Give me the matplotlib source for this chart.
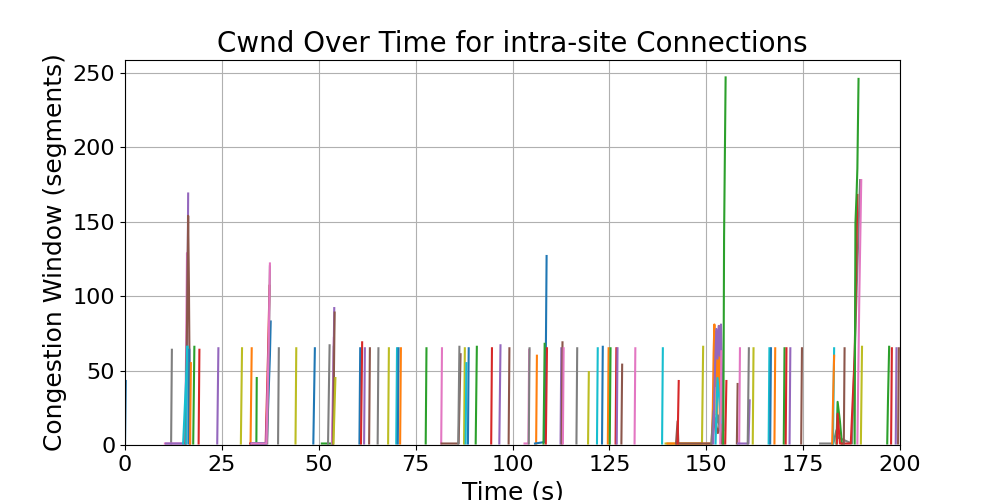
import matplotlib
matplotlib.use("Agg")
import matplotlib.pyplot as plt

# Per-connection cwnd traces (time in s, cwnd in segments)
conn_times = [
    [0.0, 0.2],
    [11.9, 12.1],
    [10.3, 15.5, 15.8, 16.0, 16.1],
    [10.6, 15.8, 16.1, 16.3],
    [15.6, 16.0, 16.3, 16.5, 16.8],
    [15.0, 15.6, 16.2],
    [15.8, 16.0],
    [16.4, 16.6],
    [16.8, 17.0],
    [17.6, 17.9],
    [19.0, 19.2],
    [23.8, 24.1],
    [29.9, 30.2],
    [32.4, 32.7],
    [33.9, 34.0],
    [32.3, 36.3, 36.9, 37.3],
    [32.5, 36.4, 37.2],
    [33.0, 36.6, 37.4, 37.6],
    [36.7, 37.2, 37.4],
    [32.8, 36.5, 37.1, 37.4],
    [39.5, 39.7],
    [44.0, 44.2],
    [48.6, 49.0],
    [50.8, 53.6, 53.9],
    [52.4, 52.8],
    [53.4, 53.9],
    [53.6, 54.0],
    [53.7, 54.1],
    [53.8, 54.3],
    [60.5, 60.7],
    [60.9, 61.2],
    [61.7, 61.9],
    [63.0, 63.2],
    [65.2, 65.4],
    [67.9, 68.1],
    [70.0, 70.2],
    [70.4, 70.6],
    [71.0, 71.2],
    [77.6, 77.8],
    [81.6, 81.8],
    [81.7, 86.1, 86.6],
    [86.0, 86.3],
    [87.5, 87.7],
    [87.9, 88.1],
    [88.5, 88.7],
    [90.5, 90.8],
    [94.5, 94.7],
    [96.6, 96.9],
    [99.0, 99.2],
    [103.1, 104.1, 104.3],
    [104.2, 104.4],
    [106.1, 106.3],
    [105.8, 108.3, 108.6, 108.8],
    [108.0, 108.3],
    [108.6, 108.9],
    [112.4, 112.6],
    [112.7, 112.9],
    [113.0, 113.2],
    [116.5, 116.7],
    [119.5, 119.7],
    [121.8, 122.0],
    [123.1, 123.3],
    [124.6, 124.8],
    [125.1, 125.3],
    [126.6, 126.8],
    [126.9, 127.1],
    [128.1, 128.3],
    [131.5, 131.7],
    [138.6, 138.8],
    [139.5, 148.9, 149.2],
    [140.0, 151.4, 151.7, 151.9, 152.1, 152.3, 152.5, 152.7, 152.9, 153.1,
     153.3, 153.5, 153.7, 153.9, 154.1, 154.3],
    [142.2, 142.6, 142.8, 151.5, 152.2, 153.0, 153.6, 154.0],
    [142.6, 142.9],
    [151.3, 151.9, 152.5, 153.0, 153.5, 154.0, 154.4],
    [151.8, 152.3, 152.6, 152.9, 153.2, 153.5, 153.8, 154.1, 154.4],
    [152.4, 152.9, 153.4, 153.8],
    [153.6, 153.9],
    [154.4, 154.6, 155.0],
    [154.9, 155.2],
    [157.9, 158.1],
    [158.5, 158.7],
    [158.2, 160.9, 161.2],
    [160.7, 161.0],
    [162.0, 162.2],
    [166.1, 166.3],
    [166.5, 166.7],
    [167.6, 167.8],
    [170.0, 170.2],
    [170.5, 170.7],
    [171.5, 171.7],
    [174.5, 174.7],
    [179.4, 182.8, 183.6, 184.0, 187.6, 189.0, 189.7],
    [182.7, 183.0],
    [182.5, 182.7, 183.0],
    [183.6, 183.9, 184.5, 185.0],
    [183.7, 183.9, 184.5, 187.3, 188.3, 189.0],
    [185.5, 185.7],
    [188.3, 188.5, 188.8, 189.0, 189.3],
    [189.0, 189.5, 190.0],
    [189.9, 190.2],
    [196.7, 196.9, 197.2],
    [197.7, 197.9],
    [198.9, 199.1],
    [199.5, 199.7],
]

conn_cwnd = [
    [1, 43],
    [1, 64],
    [1, 1, 70, 129, 108],
    [1, 1, 90, 169],
    [1, 80, 154, 106, 1],
    [1, 35, 66],
    [1, 66],
    [1, 64],
    [1, 55],
    [1, 66],
    [1, 64],
    [1, 65],
    [1, 65],
    [1, 65],
    [1, 45],
    [1, 1, 60, 107],
    [1, 1, 66],
    [1, 1, 60, 83],
    [1, 80, 120],
    [1, 1, 70, 122],
    [1, 65],
    [1, 65],
    [1, 65],
    [1, 1, 66],
    [1, 67],
    [1, 72],
    [1, 92],
    [1, 89],
    [1, 45],
    [1, 65],
    [1, 69],
    [1, 65],
    [1, 65],
    [1, 65],
    [1, 65],
    [1, 65],
    [1, 65],
    [1, 65],
    [1, 65],
    [1, 65],
    [1, 1, 61],
    [1, 66],
    [1, 65],
    [1, 55],
    [1, 65],
    [1, 66],
    [1, 65],
    [1, 67],
    [1, 65],
    [1, 1, 64],
    [1, 65],
    [1, 60],
    [1, 2, 60, 127],
    [1, 68],
    [1, 65],
    [1, 65],
    [1, 69],
    [1, 65],
    [1, 65],
    [1, 49],
    [1, 65],
    [1, 66],
    [1, 65],
    [1, 65],
    [1, 65],
    [1, 65],
    [1, 54],
    [1, 65],
    [1, 65],
    [1, 1, 66],
    [1, 1, 25, 62, 81, 40, 76, 20, 70, 35, 80, 15, 60, 12, 30, 5],
    [1, 16, 1, 1, 18, 8, 14, 1],
    [1, 43],
    [1, 23, 12, 20, 10, 15, 1],
    [1, 55, 78, 58, 80, 60, 81, 45, 10],
    [1, 45, 30, 15],
    [1, 63],
    [1, 140, 247],
    [1, 43],
    [1, 41],
    [1, 65],
    [1, 1, 30],
    [1, 65],
    [1, 65],
    [1, 65],
    [1, 65],
    [1, 65],
    [1, 65],
    [1, 65],
    [1, 65],
    [1, 65],
    [1, 1, 10, 5, 1, 120, 178],
    [1, 65],
    [1, 27, 60],
    [1, 29, 16, 1],
    [1, 21, 1, 1, 60, 168],
    [1, 65],
    [1, 149, 169, 186, 246],
    [1, 100, 178],
    [1, 66],
    [1, 30, 66],
    [1, 65],
    [1, 65],
    [1, 65],
]

conn_colors = [
    "C0", "C7", "C6", "C4", "C5", "C9", "C9", "C0", "C1", "C2",
    "C3", "C4", "C8", "C1", "C2", "C3", "C4", "C0", "C7", "C6",
    "C7", "C8", "C0", "C2", "C7", "C6", "C4", "C5", "C8", "C0",
    "C3", "C4", "C5", "C7", "C8", "C9", "C0", "C1", "C2", "C6",
    "C5", "C7", "C8", "C9", "C0", "C2", "C3", "C4", "C5", "C6",
    "C7", "C1", "C0", "C2", "C3", "C4", "C5", "C6", "C7", "C8",
    "C9", "C0", "C1", "C2", "C3", "C4", "C5", "C6", "C9", "C8",
    "C1", "C5", "C3", "C7", "C4", "C9", "C6", "C2", "C3", "C5",
    "C6", "C4", "C7", "C8", "C9", "C0", "C1", "C2", "C3", "C4",
    "C5", "C7", "C9", "C1", "C2", "C3", "C5", "C2", "C6", "C8",
    "C2", "C3", "C4", "C5",
]

fig, ax = plt.subplots(figsize=(10, 5), dpi=100)

for t, w, col in zip(conn_times, conn_cwnd, conn_colors):
    ax.plot(t, w, color=col, linewidth=1.5)

ax.set_xlim(0, 200)
ax.set_ylim(0, 258.7)
ax.set_title("Cwnd Over Time for intra-site Connections", fontsize=20)
ax.set_xlabel("Time (s)", fontsize=18)
ax.set_ylabel("Congestion Window (segments)", fontsize=18)
ax.tick_params(labelsize=16)
ax.grid(True)

fig.savefig("out.png")
